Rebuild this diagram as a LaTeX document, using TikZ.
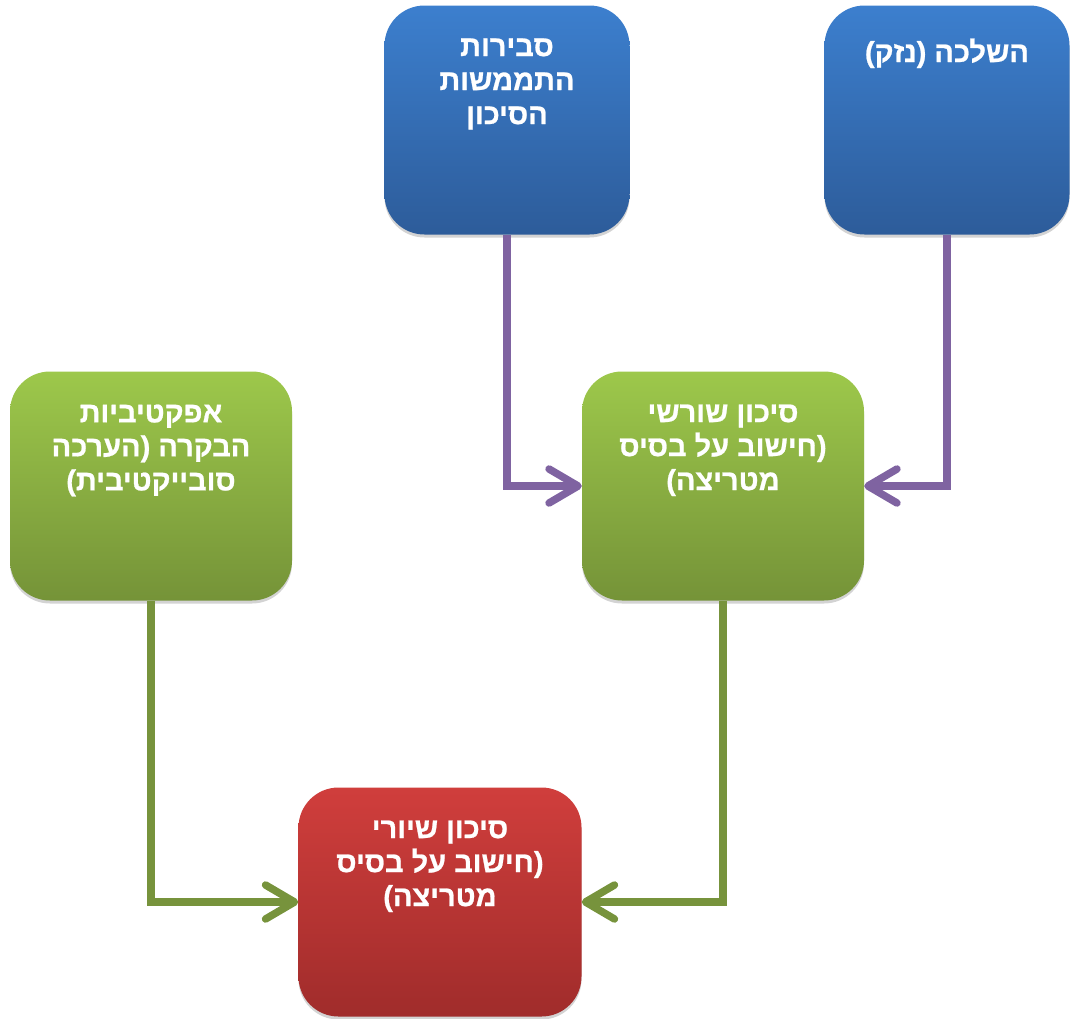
\documentclass[tikz,border=0pt]{standalone}
\usepackage{fontspec}
\newfontfamily\hebfont[Script=Hebrew, BoldFeatures={FakeBold=0.8}]{Liberation Sans}
\TeXXeTstate=1
\usetikzlibrary{positioning,arrows.meta,shadows}

\definecolor{blueTop}{HTML}{3C7FCE}
\definecolor{blueBottom}{HTML}{2D5C9A}
\definecolor{greenTop}{HTML}{9DC84B}
\definecolor{greenBottom}{HTML}{759338}
\definecolor{redTop}{HTML}{D03E3C}
\definecolor{redBottom}{HTML}{A02C2B}
\definecolor{linkPurple}{HTML}{7F63A1}
\definecolor{linkGreen}{HTML}{77933C}

\newcommand{\rtline}[1]{\beginR #1\endR}

\begin{document}
\begin{tikzpicture}[
        x=1pt, y=-1pt,
        riskbox/.style={rectangle, rounded corners=40pt, minimum height=229pt, inner sep=0pt, drop shadow={shadow xshift=0pt, shadow yshift=-3pt, opacity=0.35}},
        inputbox/.style={riskbox, minimum width=245pt, top color=blueTop, bottom color=blueBottom},
        calcbox/.style={riskbox, minimum width=282pt, top color=greenTop, bottom color=greenBottom},
        resultbox/.style={riskbox, minimum width=283pt, top color=redTop, bottom color=redBottom},
        boxtext/.style={font=\hebfont\bfseries\fontsize{29}{34}\selectfont, text=white, align=center, inner sep=0pt},
        link/.style={line width=7.5pt, -{Straight Barb[length=29pt, width=34pt, round]}}
    ]
    \useasboundingbox (0,0) rectangle (1074,1018);

    % Top section - likelihood and impact
    \node[inputbox] (likelihood) at (507,120) {};
    \node[inputbox] (impact) at (947,120) {};
    \node[boxtext, below=33pt of likelihood.north] (likelihood-txt) {\rtline{סבירות}\\\rtline{התממשות}\\\rtline{הסיכון}};
    \node[boxtext, below=33pt of impact.north] (impact-txt) {\rtline{השלכה (נזק)}};

    % Middle - control and inherent risk
    \node[calcbox] (control) at (151,486) {};
    \node[calcbox] (inherent) at (723,486) {};
    \node[boxtext, below=33pt of control.north] (control-txt) {\rtline{אפקטיביות}\\\rtline{הבקרה (הערכה}\\\rtline{סובייקטיבית)}};
    \node[boxtext, below=33pt of inherent.north] (inherent-txt) {\rtline{סיכון שורשי}\\\rtline{(חישוב על בסיס}\\\rtline{מטריצה)}};

    % Bottom - residual risk
    \node[resultbox] (residual) at (440,902) {};
    \node[boxtext, below=33pt of residual.north] (residual-txt) {\rtline{סיכון שיורי}\\\rtline{(חישוב על בסיס}\\\rtline{מטריצה)}};

    % Arrows
    \draw[link, linkPurple] (likelihood.south) |- (inherent.west);
    \draw[link, linkPurple] (impact.south) |- (inherent.east);
    \draw[link, linkGreen] (control.south) |- (residual.west);
    \draw[link, linkGreen] (inherent.south) |- (residual.east);

\end{tikzpicture}
\end{document}
